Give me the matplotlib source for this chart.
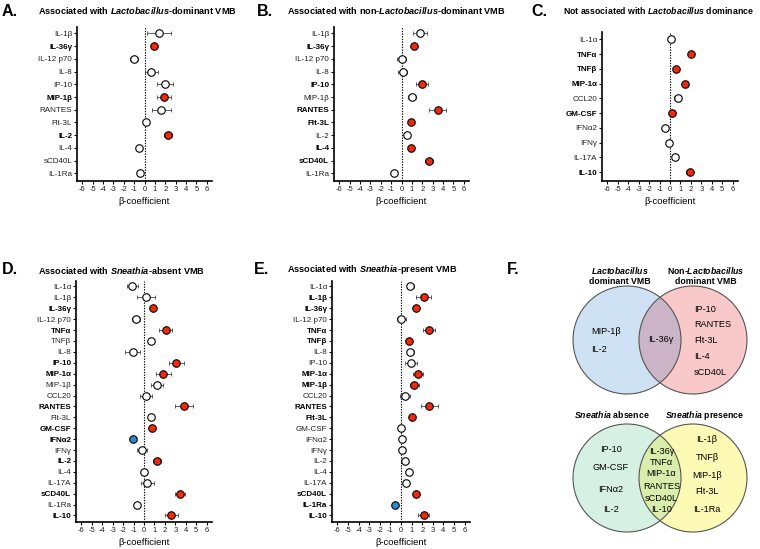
import numpy as np
import matplotlib
matplotlib.use("Agg")
import matplotlib.pyplot as plt
from matplotlib.patches import Circle

plt.rcParams["font.family"] = ["Liberation Sans", "DejaVu Sans"]
plt.rcParams["mathtext.fontset"] = "custom"
plt.rcParams["mathtext.rm"] = "Liberation Sans:bold"
plt.rcParams["mathtext.it"] = "Liberation Sans:italic:bold"
plt.rcParams["mathtext.bf"] = "Liberation Sans:bold"

# ── Data ──────────────────────────────────────────────────────────────────────
# sig: 1 = positive significant (red), -1 = negative significant (blue), 0 = ns
A_labels = ["IL-1β", "IL-36γ", "IL-12 p70", "IL-8", "IP-10", "MIP-1β", "RANTES",
            "Flt-3L", "IL-2", "IL-4", "sCD40L", "IL-1Ra"]
A_beta = [1.4, 0.96, -1.0, 0.67, 1.95, 1.86, 1.63, 0.1, 2.27, -0.55, np.nan, -0.45]
A_err  = [1.15, 0.25, 0.35, 0.6, 0.75, 0.65, 0.9, 0.2, 0.4, 0.3, np.nan, 0.25]
A_sig  = [0, 1, 0, 0, 0, 1, 0, 0, 1, 0, 0, 0]

B_labels = A_labels
B_beta = [1.77, 1.19, 0.0, 0.1, 1.96, 1.0, 3.47, 0.87, 0.55, 0.93, 2.64, -0.74]
B_err  = [0.65, 0.25, 0.4, 0.4, 0.55, 0.38, 0.85, 0.2, 0.2, 0.2, 0.4, 0.2]
B_sig  = [0, 1, 0, 0, 1, 0, 1, 1, 0, 1, 1, 0]

C_labels = ["IL-1α", "TNFα", "TNFβ", "MIP-1α", "CCL20", "GM-CSF", "IFNα2",
            "IFNγ", "IL-17A", "IL-10"]
C_beta = [0.1, 2.0, 0.57, 1.43, 0.73, 0.19, -0.5, -0.13, 0.5, 1.87]
C_err  = [0.2, 0.32, 0.2, 0.32, 0.32, 0.2, 0.2, 0.2, 0.2, 0.35]
C_sig  = [0, 1, 1, 1, 0, 1, 0, 0, 0, 1]

D_labels = ["IL-1α", "IL-1β", "IL-36γ", "IL-12 p70", "TNFα", "TNFβ", "IL-8",
            "IP-10", "MIP-1α", "MIP-1β", "CCL20", "RANTES", "Flt-3L", "GM-CSF",
            "IFNα2", "IFNγ", "IL-2", "IL-4", "IL-17A", "sCD40L", "IL-1Ra", "IL-10"]
D_beta = [-1.12, 0.16, 0.87, -0.77, 2.08, 0.64, -1.09, 3.1, 1.86, 1.22, 0.19,
          3.81, 0.64, 0.8, -1.03, -0.22, 1.25, 0.0, 0.32, 3.43, -0.64, 2.6]
D_err  = [0.5, 0.85, 0.25, 0.35, 0.6, 0.3, 0.7, 0.68, 0.68, 0.56, 0.6,
          0.88, 0.2, 0.25, 0.2, 0.48, 0.35, 0.3, 0.6, 0.5, 0.2, 0.64]
D_sig  = [0, 0, 1, 0, 1, 0, 0, 1, 1, 0, 0, 1, 0, 1, -1, 0, 1, 0, 0, 1, 0, 1]

E_labels = D_labels
E_beta = [0.86, 2.13, 1.37, 0.03, 2.64, 0.76, 0.89, 0.96, 1.62, 1.27, 0.38,
          2.68, 1.02, 0.0, 0.13, 0.13, 0.41, 0.73, 0.48, 1.46, -0.57, 2.13]
E_err  = [0.32, 0.74, 0.25, 0.43, 0.53, 0.2, 0.35, 0.56, 0.46, 0.43, 0.5,
          0.8, 0.2, 0.2, 0.2, 0.2, 0.2, 0.2, 0.3, 0.2, 0.2, 0.5]
E_sig  = [0, 1, 1, 0, 1, 1, 0, 0, 1, 1, 0, 1, 1, 0, 0, 0, 0, 0, 0, 1, -1, 1]

xticks = list(range(-6, 7))

# Venn contents
venn1_left  = ["MIP-1β", "IL-2"]
venn1_mid   = ["IL-36γ"]
venn1_right = ["IP-10", "RANTES", "Flt-3L", "IL-4", "sCD40L"]
venn2_left  = ["IP-10", "GM-CSF", "IFNα2", "IL-2"]
venn2_mid   = ["IL-36γ", "TNFα", "MIP-1α", "RANTES", "sCD40L", "IL-10"]
venn2_right = ["IL-1β", "TNFβ", "MIP-1β", "Flt-3L", "IL-1Ra"]

# ── Figure ────────────────────────────────────────────────────────────────────
W, H = 760, 549
fig = plt.figure(figsize=(W / 100, H / 100), dpi=100)
fig.patch.set_facecolor("white")

def fx(x): return x / W
def fy(y): return 1 - y / H

RED = "#f2290c"
BLUE = "#2b8ad8"

def forest(box, labels, beta, err, sig):
    l, t, r, b = box
    ax = fig.add_axes([fx(l), fy(b), fx(r - l), (b - t) / H])
    n = len(labels)
    y = np.arange(n)
    beta = np.array(beta, float)
    err = np.array(err, float)
    ax.axvline(0, color="black", lw=0.8, ls=(0, (1.2, 1.2)), zorder=1)
    ax.errorbar(beta, y, xerr=err, fmt="none", ecolor="#444444",
                elinewidth=0.6, capsize=1.6, capthick=0.6, zorder=2)
    for i in range(n):
        if np.isnan(beta[i]):
            continue
        fc = "white" if sig[i] == 0 else (RED if sig[i] > 0 else BLUE)
        ax.plot(beta[i], y[i], "o", ms=5.4, mfc=fc, mec="black", mew=0.8, zorder=3)
    ax.set_xlim(-6.5, 6.5)
    ax.set_ylim(n - 0.4, -0.5)
    ax.set_xticks(xticks)
    ax.set_xticklabels([str(v) for v in xticks], fontsize=5.5, color="#222222")
    ax.set_yticks(y)
    ax.set_yticklabels(labels, fontsize=5.8, color="#222222")
    for lab, s in zip(ax.get_yticklabels(), sig):
        if s != 0:
            lab.set_fontweight("bold")
            lab.set_color("black")
    ax.tick_params(axis="both", length=2, width=0.8, pad=1.5)
    ax.spines[["top", "right"]].set_visible(False)
    ax.spines[["bottom", "left"]].set_linewidth(1.2)
    ax.set_xlabel("β-coefficient", fontsize=6.8, labelpad=3)
    return ax

forest((77, 27, 212, 181), A_labels, A_beta, A_err, A_sig)
forest((334, 27, 469, 181), B_labels, B_beta, B_err, B_sig)
forest((602, 32, 738, 181), C_labels, C_beta, C_err, C_sig)
forest((76, 281, 212, 522), D_labels, D_beta, D_err, D_sig)
forest((332, 281, 470, 522), E_labels, E_beta, E_err, E_sig)

# Panel letters and titles
def panel(letter, x, y):
    fig.text(fx(x), fy(y), letter, fontsize=11.5, fontweight="bold", va="center")

def title(txt, x, y, size=6.6):
    fig.text(fx(x), fy(y), txt, fontsize=size, fontweight="bold", va="center")

panel("A.", 2, 11)
title(r"Associated with $\mathit{Lactobacillus}$-dominant VMB", 38, 11)
panel("B.", 257, 11)
title(r"Associated with non-$\mathit{Lactobacillus}$-dominant VMB", 287, 11)
panel("C.", 531, 11)
title(r"Not associated with $\mathit{Lactobacillus}$ dominance", 563, 11, size=6.3)
panel("D.", 2, 270)
title(r"Associated with $\mathit{Sneathia}$-absent VMB", 38, 270)
panel("E.", 254, 270)
title(r"Associated with $\mathit{Sneathia}$-present VMB", 287, 270)
panel("F.", 507, 270)

# ── Venn diagrams ────────────────────────────────────────────────────────────
vax = fig.add_axes([0, 0, 1, 1])
vax.set_xlim(0, W)
vax.set_ylim(H, 0)
vax.axis("off")

def venn(cy, c1, c2, col1, col2, colmid):
    r = 54
    vax.add_patch(Circle((c1, cy), r, fc=col1, ec="none"))
    vax.add_patch(Circle((c2, cy), r, fc=col2, ec="none"))
    clip = Circle((c1, cy), r, transform=vax.transData)
    mid = Circle((c2, cy), r, fc=colmid, ec="none")
    vax.add_patch(mid)
    mid.set_clip_path(clip)
    for c in (c1, c2):
        vax.add_patch(Circle((c, cy), r, fc="none", ec="#555555", lw=0.8))

venn(340, 627, 693, "#cfe2f3", "#f9c8c8", "#cbb4c6")
venn(478, 627, 693, "#d6f1e4", "#fcfab4", "#daeeac")

vfs = 6.6
hfs = 6.3
# top Venn headers
vax.text(620, 271, r"$\mathit{Lactobacillus}$", ha="center", va="center", fontsize=hfs)
vax.text(620, 282, "dominant VMB", ha="center", va="center", fontsize=hfs, fontweight="bold")
vax.text(706, 271, r"Non-$\mathit{Lactobacillus}$", ha="center", va="center", fontsize=hfs, fontweight="bold")
vax.text(706, 282, "dominant VMB", ha="center", va="center", fontsize=hfs, fontweight="bold")

for txt, yy in zip(venn1_left, [331, 350]):
    vax.text(591, yy, txt, ha="left", va="center", fontsize=vfs)
for txt in venn1_mid:
    vax.text(661, 340, txt, ha="center", va="center", fontsize=vfs)
for txt, yy in zip(venn1_right, [309, 324.5, 340.5, 356.5, 372.5]):
    vax.text(694, yy, txt, ha="left", va="center", fontsize=vfs)

# bottom Venn headers
vax.text(612, 415, r"$\mathit{Sneathia}$ absence", ha="center", va="center", fontsize=hfs, fontweight="bold")
vax.text(705, 415, r"$\mathit{Sneathia}$ presence", ha="center", va="center", fontsize=hfs, fontweight="bold")

for txt, yy in zip(venn2_left, [449, 467, 489, 509]):
    vax.text(611, yy, txt, ha="center", va="center", fontsize=vfs)
for txt, yy in zip(venn2_mid, [451, 462.5, 474, 486.5, 498.5, 509.5]):
    vax.text(661.5, yy, txt, ha="center", va="center", fontsize=vfs)
for txt, yy in zip(venn2_right, [440, 457, 476, 492, 510]):
    vax.text(707, yy, txt, ha="center", va="center", fontsize=vfs)

fig.savefig("out.png", dpi=100, facecolor="white")
